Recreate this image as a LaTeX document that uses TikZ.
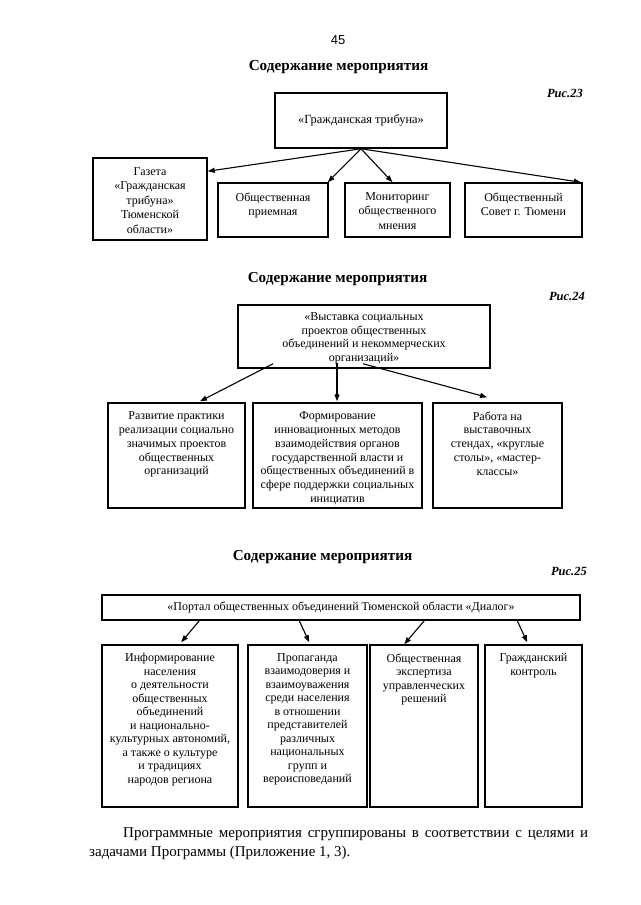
\documentclass[tikz,border=0pt]{standalone}
\usepackage{fontspec}
\setmainfont{Liberation Serif}
\newfontfamily\pagenumfont{Liberation Sans}
\usetikzlibrary{arrows.meta,calc}
\begin{document}
\begin{tikzpicture}[x=1pt,y=-1pt,
  box/.style={draw, line width=1.5pt, inner sep=0pt},
  txt/.style={inner sep=0pt, align=center, font=\fontsize{12}{14.5}\selectfont},
  txtb/.style={inner sep=0pt, align=center, font=\fontsize{12}{13.9}\selectfont},
  txtc/.style={inner sep=0pt, align=center, font=\fontsize{12}{13.5}\selectfont},
  arr/.style={line width=1.1pt, -{Triangle[length=7pt,width=5pt]}},
  ttl/.style={font=\fontsize{15.2}{18}\selectfont\bfseries, inner sep=0pt},
  fig/.style={font=\fontsize{12.5}{15}\selectfont\bfseries\itshape, anchor=east, inner sep=0pt}]
\useasboundingbox[fill=white] (0,0) rectangle (640,905);

% ---------- page number and section 1 ----------
\node[font=\pagenumfont\fontsize{13}{15}\selectfont, inner sep=0pt] (pn) at (338,40) {45};
\node[ttl] (ttl1) at (338.5,67) {Содержание мероприятия};
\node[fig] (fig23) at (583,93) {Рис.23};

\node[box, txt, font=\fontsize{12.4}{14.5}\selectfont, minimum width=172pt, minimum height=55pt] (t1) at (361,120.5) {«Гражданская трибуна»};

\node[box, minimum width=114pt, minimum height=82pt] (g1) at (150,199) {};
\node[txt, anchor=north] (g1t) at ($(g1.north)+(0,10)$) {Газета\\«Гражданская\\трибуна»\\Тюменской\\области»};
\node[box, minimum width=110pt, minimum height=54pt] (p1) at (273,210) {};
\node[txt, anchor=north] (p1t) at ($(p1.north)+(0,10)$) {Общественная\\приемная};
\node[box, minimum width=105pt, minimum height=54pt] (m1) at (397.5,210) {};
\node[txt, anchor=north] (m1t) at ($(m1.north)+(0,10)$) {Мониторинг\\общественного\\мнения};
\node[box, minimum width=117pt, minimum height=54pt] (s1) at (523.5,210) {};
\node[txt, anchor=north] (s1t) at ($(s1.north)+(0,10)$) {Общественный\\Совет г. Тюмени};

\draw[arr] (t1.south) -- ($(g1.north east)+(0,14)$);
\draw[arr] (t1.south) -- ($(p1.north east)+(-1,0)$);
\draw[arr] (t1.south) -- ($(m1.north)+(-5,0)$);
\draw[arr] (t1.south) -- ($(s1.north east)+(-2,0)$);

% ---------- section 2 ----------
\node[ttl] (ttl2) at (337.5,279) {Содержание мероприятия};
\node[fig] (fig24) at (585,296) {Рис.24};

\node[box, minimum width=252pt, minimum height=63pt] (t2) at (364,336.5) {};
\node[txt, font=\fontsize{12}{13.7}\selectfont, anchor=north] (t2t) at ($(t2.north)+(0,8)$)
  {«Выставка социальных\\проектов общественных\\объединений и некоммерческих\\организаций»};

\node[box, minimum width=137pt, minimum height=105pt] (c21) at (176.5,455.5) {};
\node[txtb, anchor=north] (c21t) at ($(c21.north)+(0,9)$) {Развитие практики\\реализации социально\\значимых проектов\\общественных\\организаций};
\node[box, minimum width=169pt, minimum height=105pt] (c22) at (337.5,455.5) {};
\node[txtb, anchor=north] (c22t) at ($(c22.north)+(0,9)$) {Формирование\\инновационных методов\\взаимодействия органов\\государственной власти и\\общественных объединений в\\сфере поддержки социальных\\инициатив};
\node[box, minimum width=129pt, minimum height=105pt] (c23) at (497.5,455.5) {};
\node[txtb, anchor=north] (c23t) at ($(c23.north)+(0,9)$) {Работа на\\выставочных\\стендах, «круглые\\столы», «мастер-\\классы»};

\draw[arr] ($(t2.south)+(-91,-5)$) -- ($(c21.north)+(23.5,-1)$);
\draw[arr] ($(t2.south)+(-27,-6)$) -- ($(c22.north)+(-0.5,-1)$);
\draw[arr] ($(t2.south)+(-1,-5)$) -- ($(c23.north)+(-10.5,-5)$);

% ---------- section 3 ----------
\node[ttl] (ttl3) at (322.5,557) {Содержание мероприятия};
\node[fig] (fig25) at (587,571) {Рис.25};

\node[box, txtc, minimum width=478pt, minimum height=25pt] (t3) at (341,607.5)
  {«Портал общественных объединений Тюменской области «Диалог»};

\node[box, minimum width=136pt, minimum height=162pt] (c31) at (170,726) {};
\node[txtc, anchor=north] (c31t) at ($(c31.north)+(0,9)$) {Информирование\\населения\\о деятельности\\общественных\\объединений\\и национально-\\культурных автономий,\\а также о культуре\\и традициях\\народов региона};
\node[box, minimum width=119pt, minimum height=162pt] (c32) at (307.5,726) {};
\node[txtc, anchor=north] (c32t) at ($(c32.north)+(0,9)$) {Пропаганда\\взаимодоверия и\\взаимоуважения\\среди населения\\в отношении\\представителей\\различных\\национальных\\групп и\\вероисповеданий};
\node[box, minimum width=108pt, minimum height=162pt] (c33) at (424,726) {};
\node[txtc, anchor=north] (c33t) at ($(c33.north)+(0,9)$) {Общественная\\экспертиза\\управленческих\\решений};
\node[box, minimum width=97pt, minimum height=162pt] (c34) at (533.5,726) {};
\node[txtc, anchor=north] (c34t) at ($(c34.north)+(0,9)$) {Гражданский\\контроль};

\draw[arr] ($(t3.south west)+(98,0)$) -- ($(c31.north west)+(80,-2)$);
\draw[arr] ($(t3.south west)+(198,0)$) -- ($(c32.north west)+(62,-2)$);
\draw[arr] ($(t3.south west)+(323,0)$) -- ($(c33.north west)+(35,0)$);
\draw[arr] ($(t3.south west)+(416,0)$) -- ($(c34.north west)+(43,-2)$);

% ---------- closing paragraph ----------
\node[anchor=north west, inner sep=0pt, text width=499pt, align=justify, font=\fontsize{15}{19.5}\selectfont] (par) at (89,827)
  {\hspace*{34pt}Программные мероприятия сгруппированы в соответствии с целями и\linebreak задачами Программы (Приложение 1, 3).};
\end{tikzpicture}
\end{document}
